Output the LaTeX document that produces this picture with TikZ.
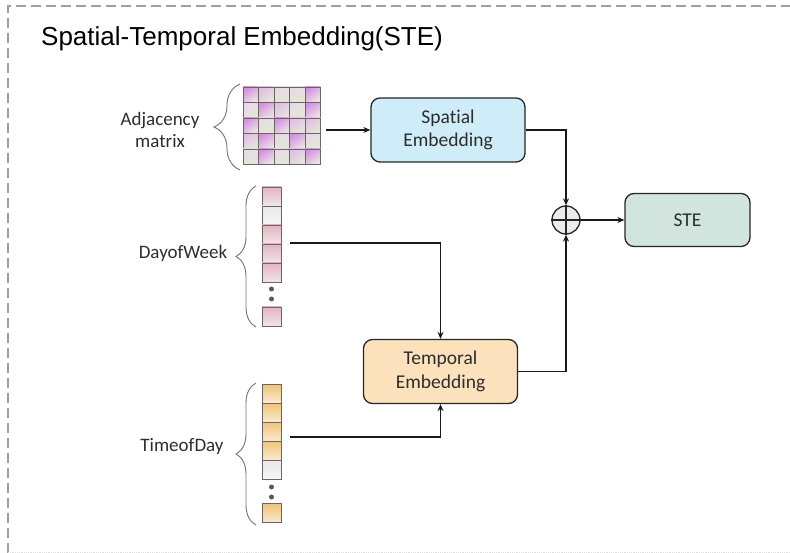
\documentclass[tikz,border=0pt]{standalone}
\usepackage{fontspec}
\setmainfont{Carlito}[Ligatures=NoCommon]
\newfontfamily\titlefont{Liberation Sans}
\usetikzlibrary{arrows.meta,decorations.pathreplacing,calc}
\definecolor{txt}{RGB}{45,45,45}
\definecolor{spfill}{RGB}{207,236,249}
\definecolor{tpfill}{RGB}{252,226,188}
\definecolor{stefill}{RGB}{210,228,222}
\definecolor{cellb}{RGB}{110,100,100}
\definecolor{purA}{RGB}{212,145,225}
\definecolor{purB}{RGB}{226,190,232}
\definecolor{purC}{RGB}{230,218,230}
\definecolor{lgtA}{RGB}{236,228,228}
\definecolor{lgtC}{RGB}{226,232,214}
\definecolor{pinkT}{RGB}{226,180,195}
\definecolor{pinkB}{RGB}{244,228,232}
\definecolor{orT}{RGB}{238,196,120}
\definecolor{orB}{RGB}{250,234,205}
\definecolor{greyT}{RGB}{232,232,232}
\definecolor{greyB}{RGB}{246,246,246}
\begin{document}
\begin{tikzpicture}[x=1pt,y=-1pt,
  box/.style={draw=black!85, line width=1.3pt, rounded corners=9pt, minimum width=154pt, minimum height=64pt, align=center, text=txt, font=\fontsize{19.5}{23.5}\selectfont},
  arr/.style={-{Stealth[length=7pt,width=6pt]}, line width=1.1pt, black!90},
  lbl/.style={align=center, text=txt, font=\fontsize{19}{22}\selectfont},
  cell/.style={draw=cellb, line width=0.9pt, minimum size=15.5pt, inner sep=0pt},
  vcell/.style={draw=cellb, line width=0.9pt, minimum width=19pt, minimum height=19pt, inner sep=0pt},
  mA/.style={top color=purA, bottom color=lgtA, shading angle=35},
  mB/.style={top color=purB, bottom color=lgtC, shading angle=35},
  mC/.style={top color=purC, bottom color=lgtC, shading angle=35},
  pk/.style={top color=pinkT, bottom color=pinkB},
  og/.style={top color=orT, bottom color=orB},
  gy/.style={top color=greyT, bottom color=greyB},
  brc/.style={decorate, decoration={brace, amplitude=#1}, draw=black!55, line width=0.9pt},
  dot/.style={circle, fill=black!65, inner sep=0pt, minimum size=5pt}
]
\useasboundingbox (0,0) rectangle (790,553);
% frame
\draw[gray!75, line width=1.2pt, dash pattern=on 10pt off 5pt] (8,553) -- (8,6) -- (790,6);
\draw[gray!25, line width=0.8pt, densely dotted] (8,552) -- (790,552);
% title
\node[anchor=base west, inner sep=0pt, font=\titlefont\fontsize{26}{30}\selectfont] (title) at (41,46) {Spatial-Temporal Embedding(STE)};

% adjacency matrix
\foreach [count=\i from 0] \s in {A,B,C,C,A, C,A,B,C,A, A,C,A,B,B, B,A,C,A,C, C,A,C,B,A}{
  \pgfmathtruncatemacro\r{div(\i,5)}
  \pgfmathtruncatemacro\c{mod(\i,5)}
  \node[cell, m\s] (m-\r-\c) at (243+15.5*\c+7.75, 87+15.5*\r+7.75) {};
}
\node[lbl] (adjl) at (160,130) {Adjacency\\matrix};
\draw[brc=26pt] (240,170) -- (240,84);

% DayofWeek column
\foreach \y/\s [count=\k] in {196.5/pk, 215.5/gy, 234.5/pk, 253.5/pk, 272.5/pk}{
  \node[vcell, \s] (dw\k) at (271.5,\y) {};
}
\node[dot] (dwd1) at (271.5,289) {};
\node[dot] (dwd2) at (271.5,299) {};
\node[vcell, pk] (dwlast) at (271.5,316.5) {};
\draw[brc=20pt] (256,327) -- (256,186);
\node[lbl] (dwl) at (183,253) {DayofWeek};

% TimeofDay column
\foreach \y/\s [count=\k] in {393.5/og, 412.5/og, 431.5/og, 450.5/og, 469.5/gy}{
  \node[vcell, \s] (td\k) at (271.5,\y) {};
}
\node[dot] (tdd1) at (271.5,487) {};
\node[dot] (tdd2) at (271.5,497) {};
\node[vcell, og] (tdlast) at (271.5,513) {};
\draw[brc=20pt] (256,525) -- (256,383);
\node[lbl] (tdl) at (182,446) {TimeofDay};

% boxes
\node[box, fill=spfill] (sp) at (448,130) {Spatial\\Embedding};
\node[box, fill=tpfill] (tp) at (440.5,371.5) {Temporal\\Embedding};
\node[box, fill=stefill, minimum width=125pt, minimum height=53pt] (ste) at (687.5,220) {STE};
\node[circle, draw=black!85, line width=1.3pt, fill=black!8, minimum size=28pt, inner sep=0pt] (plus) at (566,220) {};
\draw[black!85, line width=1.3pt] (plus.north) -- (plus.south) (plus.west) -- (plus.east);

% connectors
\coordinate (mout) at (326,130);
\coordinate (dwout) at (290,243);
\coordinate (tdout) at (290,437);
\draw[arr] (mout) -- (sp.west);
\draw[arr] (sp.east) -| (plus.north);
\draw[arr] (tp.east) -| (plus.south);
\draw[arr] (plus.east) -- (ste.west);
\draw[arr] (dwout) -| (tp.north);
\draw[arr] (tdout) -| (tp.south);
\end{tikzpicture}
\end{document}
